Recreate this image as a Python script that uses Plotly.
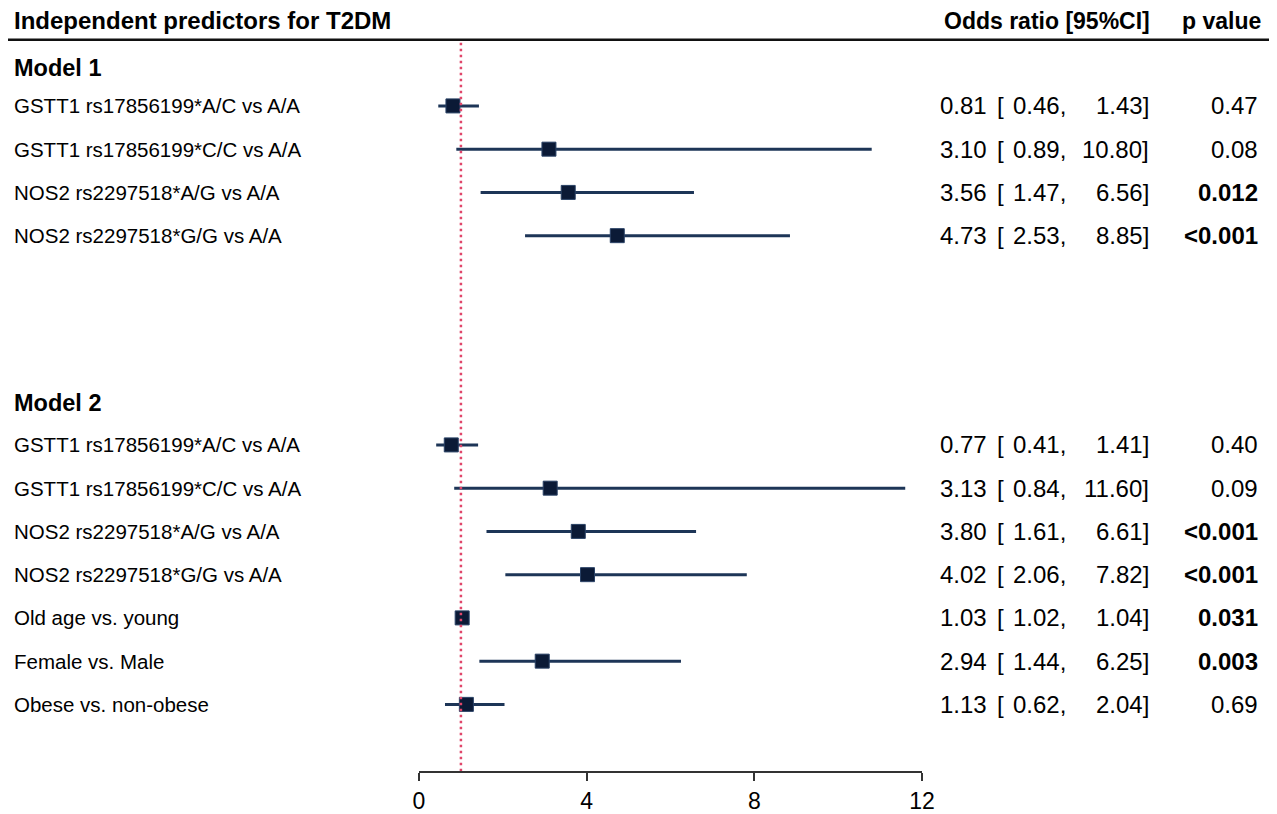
import plotly.graph_objects as go

# ---------------- data ----------------
title_text = "Independent predictors for T2DM"
col_or_title = "Odds ratio [95%CI]"
col_p_title = "p value"

model1_name = "Model 1"
model1_labels = ["GSTT1 rs17856199*A/C vs A/A", "GSTT1 rs17856199*C/C vs A/A",
                 "NOS2 rs2297518*A/G vs A/A", "NOS2 rs2297518*G/G vs A/A"]
model1_or = [0.81, 3.10, 3.56, 4.73]
model1_lo = [0.46, 0.89, 1.47, 2.53]
model1_hi = [1.43, 10.80, 6.56, 8.85]
model1_p = ["0.47", "0.08", "0.012", "<0.001"]

model2_name = "Model 2"
model2_labels = ["GSTT1 rs17856199*A/C vs A/A", "GSTT1 rs17856199*C/C vs A/A",
                 "NOS2 rs2297518*A/G vs A/A", "NOS2 rs2297518*G/G vs A/A",
                 "Old age vs. young", "Female vs. Male", "Obese vs. non-obese"]
model2_or = [0.77, 3.13, 3.80, 4.02, 1.03, 2.94, 1.13]
model2_lo = [0.41, 0.84, 1.61, 2.06, 1.02, 1.44, 0.62]
model2_hi = [1.41, 11.60, 6.61, 7.82, 1.04, 6.25, 2.04]
model2_p = ["0.40", "0.09", "<0.001", "<0.001", "0.031", "0.003", "0.69"]

x_ticks = [0, 4, 8, 12]
ref_value = 1

# ---------------- layout helpers ----------------
OFF = 8                        # page body margin in the browser
W, H = 1277 - OFF, 814 - OFF
AX_L, AX_R = 419 - OFF, 922 - OFF   # pixel span of x range [0, 12]
AX_BOTTOM = 775.5 - OFF             # pixel y of x-axis line
STEP = 43.5
m1_first, m2_first = 106.5 - OFF, 447.5 - OFF
m1_head_y, m2_head_y = 68 - OFF, 405 - OFF
title_y, rule_y = 21 - OFF, 40 - OFF

def px(p):
    return (p - OFF - AX_L) / (AX_R - AX_L)

def ypos(first, n):
    return [first + STEP * i for i in range(n)]

y1 = ypos(m1_first, len(model1_labels))
y2 = ypos(m2_first, len(model2_labels))

FONT = "Liberation Sans, Arial, Helvetica, sans-serif"
NAVY = "#0b1a36"
LINE = "#1d3557"

fig = go.Figure()

def add_model(ors, los, his, ys):
    fig.add_trace(go.Scatter(
        x=ors, y=ys, mode="markers",
        marker=dict(symbol="square", size=14, color=NAVY,
                    line=dict(color="#2a4266", width=1)),
        error_x=dict(type="data", symmetric=False,
                     array=[h - o for h, o in zip(his, ors)],
                     arrayminus=[o - l for o, l in zip(ors, los)],
                     color=LINE, thickness=3, width=0),
        hoverinfo="skip", showlegend=False, cliponaxis=False))

add_model(model1_or, model1_lo, model1_hi, y1)
add_model(model2_or, model2_lo, model2_hi, y2)

ann = []

def txt(x, y, s, anchor="left", size=20, bold=False):
    ann.append(dict(x=px(x), xref="paper", y=y, yref="y", text=(f"<b>{s}</b>" if bold else s),
                    showarrow=False, xanchor=anchor, yanchor="middle",
                    font=dict(family=FONT, size=size, color="#000")))

def is_sig(p):
    return p.startswith("<") or float(p) < 0.05

txt(12, title_y, title_text, size=24, bold=True)
txt(1152, title_y, col_or_title, anchor="right", size=23, bold=True)
txt(1263, title_y, col_p_title, anchor="right", size=23, bold=True)
txt(12, m1_head_y, model1_name, size=23.5, bold=True)
txt(12, m2_head_y, model2_name, size=23.5, bold=True)

def add_rows(labels, ors, los, his, ps, ys):
    for lab, o, l, h, p, y in zip(labels, ors, los, his, ps, ys):
        txt(12, y, lab, size=20.5)
        txt(989, y, f"{o:.2f}", anchor="right", size=24)
        txt(995, y, "[", anchor="left", size=24)
        txt(1068, y, f"{l:.2f},", anchor="right", size=24)
        txt(1151, y, f"{h:.2f}]", anchor="right", size=24)
        txt(1260, y, p, anchor="right", size=24, bold=is_sig(p))

add_rows(model1_labels, model1_or, model1_lo, model1_hi, model1_p, y1)
add_rows(model2_labels, model2_or, model2_lo, model2_hi, model2_p, y2)

shapes = [
    dict(type="line", xref="paper", yref="y", x0=px(0), x1=px(1285), y0=rule_y, y1=rule_y,
         line=dict(color="#111", width=2.5)),
    dict(type="line", xref="x", yref="y", x0=ref_value, x1=ref_value, y0=rule_y + 3, y1=AX_BOTTOM,
         line=dict(color="#e0466a", width=2.5, dash="2.5px,3.5px")),
]

fig.update_layout(
    width=W, height=H,
    margin=dict(l=AX_L, r=W - AX_R, t=0, b=H - AX_BOTTOM, pad=0),
    paper_bgcolor="white", plot_bgcolor="white",
    annotations=ann, shapes=shapes,
    xaxis=dict(range=[0, 12], tickvals=x_ticks, ticktext=[str(t) for t in x_ticks],
               showgrid=False, zeroline=False, showline=True, linecolor="#333", linewidth=2,
               ticks="outside", ticklen=8, tickwidth=2, tickcolor="#333",
               tickfont=dict(family=FONT, size=23, color="#000"), fixedrange=True),
    yaxis=dict(range=[AX_BOTTOM, 0], visible=False, fixedrange=True),
)

fig.write_html("out.html")
